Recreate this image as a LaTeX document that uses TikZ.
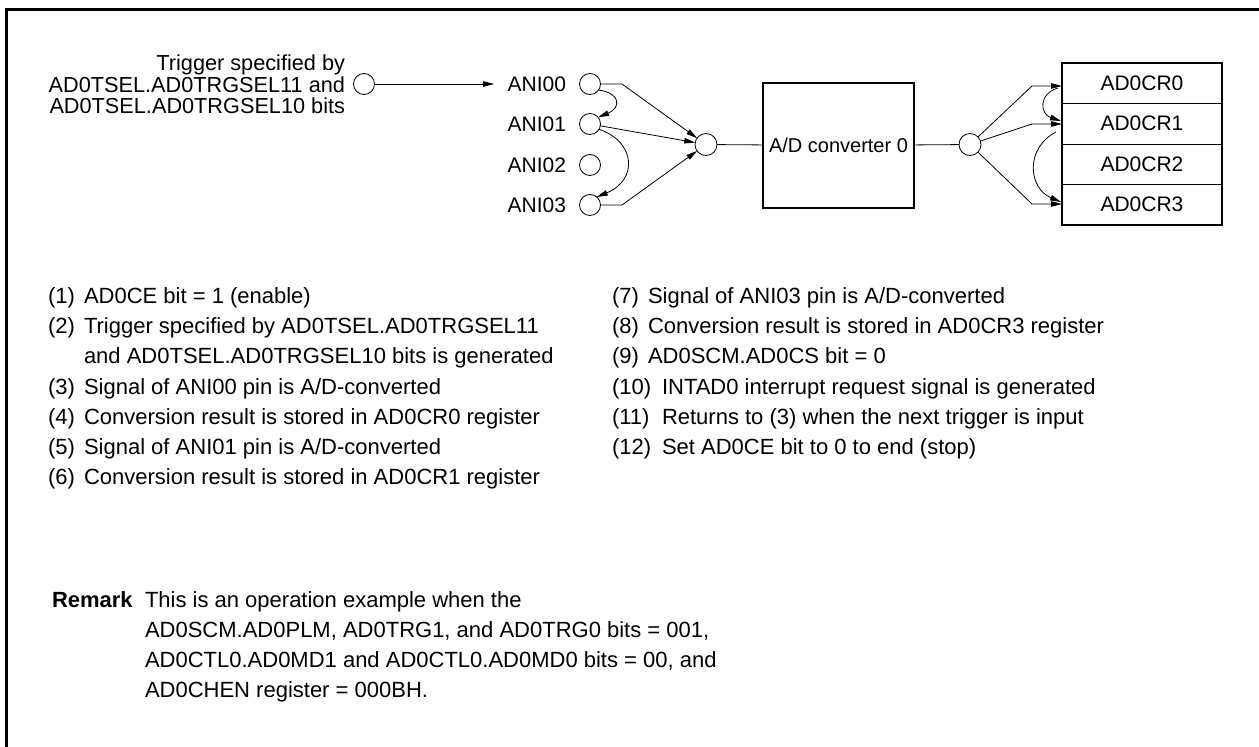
\documentclass[tikz,border=0pt]{standalone}
\usepackage{fontspec}
\setmainfont{Liberation Sans}
\usetikzlibrary{arrows.meta}
\begin{document}
\begin{tikzpicture}[x=1pt,y=-1pt,
  every node/.style={inner sep=0pt, outer sep=0pt},
  txt/.style={font=\fontsize{22}{26}\selectfont, anchor=base west},
  lbl/.style={font=\fontsize{21}{25}\selectfont, anchor=base east},
  trg/.style={font=\fontsize{21.7}{25}\selectfont, anchor=base east},
  pin/.style={circle, draw, line width=0.8pt, minimum size=21pt},
  conn/.style={line width=0.8pt},
  arr/.style={conn, -{Triangle[length=11pt,width=5.5pt]}},
  regbox/.style={draw, line width=0.8pt, minimum width=160pt, minimum height=40.5pt, font=\fontsize{21}{25}\selectfont},
  adbox/.style={draw, line width=2.2pt, minimum width=151pt, minimum height=125pt, font=\fontsize{20}{24}\selectfont}
]
\useasboundingbox (0,0) rectangle (1259,747);
% frame
\draw[line width=3pt] (6,747) -- (6,9) -- (1259,9);

% trigger
\node[trg] (tr1) at (345,70.5) {Trigger specified by};
\node[trg] (tr2) at (345,92) {AD0TSEL.AD0TRGSEL11 and};
\node[trg] (tr3) at (345,113.5) {AD0TSEL.AD0TRGSEL10 bits};
\node[pin] (t) at (364,84) {};
\coordinate (tend) at (494,84);
\draw[arr] (t) -- (tend);

% ANI pins
\node[lbl] (l0) at (566,91.5) {ANI00};
\node[lbl] (l1) at (566,131.5) {ANI01};
\node[lbl] (l2) at (566,172) {ANI02};
\node[lbl] (l3) at (566,212.5) {ANI03};
\node[pin] (i0) at (590,84) {};
\node[pin] (i1) at (590,124) {};
\node[pin] (i2) at (590,165) {};
\node[pin] (i3) at (590,205) {};

\node[pin, minimum size=22pt] (mux) at (706,144.5) {};
\coordinate (k0) at (622,84);
\coordinate (k3) at (622,205);
\draw[arr] (i0.east) -- (k0) -- (mux);
\draw[arr] (i1) -- (mux);
\draw[arr] (i3.east) -- (k3) -- (mux);
\draw[arr] (i0.-35) .. controls (621,93) and (621,108) .. (i1.40);
\draw[arr] (i1.-30) .. controls (636,142) and (638,180) .. (i3.50);

% converter
\node[adbox] (adc) at (838.5,145.5) {A/D converter 0};
\draw[conn] (mux) -- (adc);
\node[pin, minimum size=22pt] (out) at (970,144.5) {};
\draw[conn] (adc) -- (out);

% registers
\node[regbox] (r0) at (1142,83.25) {AD0CR0};
\node[regbox] (r1) at (1142,123.75) {AD0CR1};
\node[regbox] (r2) at (1142,164.25) {AD0CR2};
\node[regbox] (r3) at (1142,204.75) {AD0CR3};
\draw[line width=2.5pt] (r0.north west) rectangle (r3.south east);

\coordinate (f0) at (1032,86);
\coordinate (f1) at (1032,124);
\coordinate (f3) at (1032,204);
\coordinate (e0) at (1062,86);
\coordinate (e1) at (1062,124);
\coordinate (e3) at (1062,204);
\draw[arr] (out) -- (f0) -- (e0);
\draw[arr] (out) -- (f1) -- (e1);
\draw[arr] (out) -- (f3) -- (e3);
\coordinate (c0s) at (1058,88);
\coordinate (c0e) at (1061,121);
\coordinate (c1s) at (1056,132);
\coordinate (c1e) at (1061,202);
\draw[arr] (c0s) .. controls (1038,94) and (1040,114) .. (c0e);
\draw[arr] (c1s) .. controls (1025,148) and (1028,188) .. (c1e);

% list left
\node[txt] (n1) at (48,303.5) {(1)};
\node[txt] (x1) at (84,303.5) {AD0CE bit = 1 (enable)};
\node[txt] (n2) at (48,333.5) {(2)};
\node[txt] (x2) at (84,333.5) {Trigger specified by AD0TSEL.AD0TRGSEL11};
\node[txt] (x2b) at (84,363.5) {and AD0TSEL.AD0TRGSEL10 bits is generated};
\node[txt] (n3) at (48,394) {(3)};
\node[txt] (x3) at (84,394) {Signal of ANI00 pin is A/D-converted};
\node[txt] (n4) at (48,424) {(4)};
\node[txt] (x4) at (84,424) {Conversion result is stored in AD0CR0 register};
\node[txt] (n5) at (48,454) {(5)};
\node[txt] (x5) at (84,454) {Signal of ANI01 pin is A/D-converted};
\node[txt] (n6) at (48,484) {(6)};
\node[txt] (x6) at (84,484) {Conversion result is stored in AD0CR1 register};

% list right
\node[txt] (n7) at (612,303.5) {(7)};
\node[txt] (x7) at (648,303.5) {Signal of ANI03 pin is A/D-converted};
\node[txt] (n8) at (612,333.5) {(8)};
\node[txt] (x8) at (648,333.5) {Conversion result is stored in AD0CR3 register};
\node[txt] (n9) at (612,363.5) {(9)};
\node[txt] (x9) at (648,363.5) {AD0SCM.AD0CS bit = 0};
\node[txt] (n10) at (612,394) {(10)};
\node[txt] (x10) at (662,394) {INTAD0 interrupt request signal is generated};
\node[txt] (n11) at (612,424) {(11)};
\node[txt] (x11) at (662,424) {Returns to (3) when the next trigger is input};
\node[txt] (n12) at (612,454) {(12)};
\node[txt] (x12) at (662,454) {Set AD0CE bit to 0 to end (stop)};

% remark
\node[txt, font=\fontsize{22}{26}\selectfont\bfseries] (rm) at (52,607.5) {Remark};
\node[txt] (rm1) at (145,607.5) {This is an operation example when the};
\node[txt] (rm2) at (145,637.5) {AD0SCM.AD0PLM, AD0TRG1, and AD0TRG0 bits = 001,};
\node[txt] (rm3) at (145,667.5) {AD0CTL0.AD0MD1 and AD0CTL0.AD0MD0 bits = 00, and};
\node[txt] (rm4) at (145,697.5) {AD0CHEN register = 000BH.};
\end{tikzpicture}
\end{document}
